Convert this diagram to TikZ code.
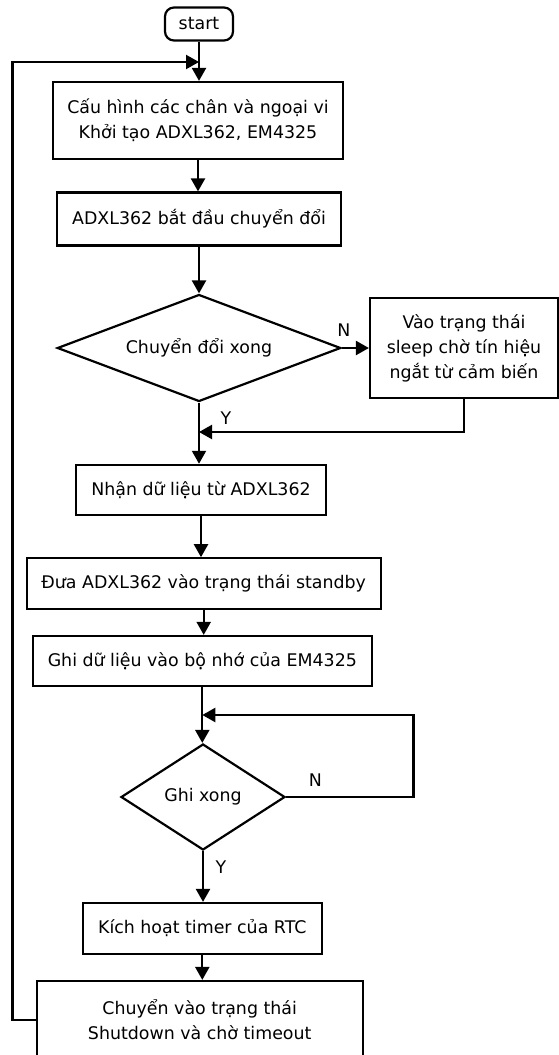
\documentclass[tikz,border=0pt]{standalone}
\usepackage{fontspec}
\setmainfont{DejaVu Sans}
\usetikzlibrary{shapes.geometric,arrows.meta}

\begin{document}
\begin{tikzpicture}[x=1pt,y=-1pt,line width=2.2pt,
    every node/.style={font=\fontsize{17.4}{25}\selectfont},
    procbox/.style={draw,rectangle,align=center,inner sep=0pt},
    termbox/.style={draw,rectangle,rounded corners=9pt,inner sep=0pt,minimum width=68pt,minimum height=33pt},
    decision/.style={draw,diamond,inner sep=0pt,align=center},
    flowarrow/.style={-{Triangle[length=13pt,width=14pt]}}]
    \useasboundingbox (0,0) rectangle (559,1055);
    \clip (0,0) rectangle (559,1055);
    % Draw the blocks of the flow
    \node[termbox] (start) at (199,24) {start};
    \node[procbox,minimum width=290pt,minimum height=77pt] (config) at (198,120.5) {Cấu hình các chân và ngoại vi\\Khởi tạo ADXL362, EM4325};
    \node[procbox,minimum width=283.5pt,minimum height=53pt] (convert) at (199,219) {ADXL362 bắt đầu chuyển đổi};
    \node[decision,aspect=2.65,minimum width=283.5pt,minimum height=107pt] (done1) at (199,348) {Chuyển đổi xong};
    \node[procbox,minimum width=188pt,minimum height=100.7pt] (sleep) at (464,348) {Vào trạng thái\\sleep chờ tín hiệu\\ngắt từ cảm biến};
    \node[procbox,minimum width=250pt,minimum height=50.3pt] (read) at (201,490) {Nhận dữ liệu từ ADXL362};
    \node[procbox,minimum width=354pt,minimum height=51pt] (standby) at (203.7,583.8) {Đưa ADXL362 vào trạng thái standby};
    \node[procbox,minimum width=339pt,minimum height=50pt] (write) at (202.3,661) {Ghi dữ liệu vào bộ nhớ của EM4325};
    \node[decision,aspect=1.55,minimum width=164pt,minimum height=106pt] (done2) at (203,797) {Ghi xong};
    \node[procbox,minimum width=238.6pt,minimum height=51pt] (timer) at (202.3,928.5) {Kích hoạt timer của RTC};
    \node[procbox,minimum width=326pt,minimum height=78pt] (shutdown) at (199.7,1020) {Chuyển vào trạng thái\\Shutdown và chờ timeout};
    % Draw the branch labels
    \node (n1) at (344,330) {N};
    \node (y1) at (226,418) {Y};
    \node (n2) at (315.5,780) {N};
    \node (y2) at (221,867) {Y};
    % Draw the connectors
    \coordinate (j0) at (199,62);
    \coordinate (c0) at (12.5,62);
    \coordinate (j1) at (199,432);
    \coordinate (j2) at (202.3,715);
    \coordinate (c2) at (413.5,715);
    \draw[flowarrow] (start.south) -- (start.south |- config.north);
    \draw[flowarrow] (config.south) -- (config.south |- convert.north);
    \draw[flowarrow] (convert.south) -- (convert.south |- done1.north);
    \draw[flowarrow] (done1.south) -- (done1.south |- read.north);
    \draw[flowarrow] (read.south) -- (read.south |- standby.north);
    \draw[flowarrow] (standby.south) -- (standby.south |- write.north);
    \draw[flowarrow] (write.south) -- (write.south |- done2.north);
    \draw[flowarrow] (done2.south) -- (done2.south |- timer.north);
    \draw[flowarrow] (timer.south) -- (timer.south |- shutdown.north);
    \draw[flowarrow] (done1.east) -- (sleep.west);
    \draw[flowarrow] (sleep.south) |- (j1);
    \draw[flowarrow] (done2.east) -| (c2) -- (j2);
    \draw[flowarrow] (shutdown.west) -| (c0) -- (j0);
\end{tikzpicture}
\end{document}
